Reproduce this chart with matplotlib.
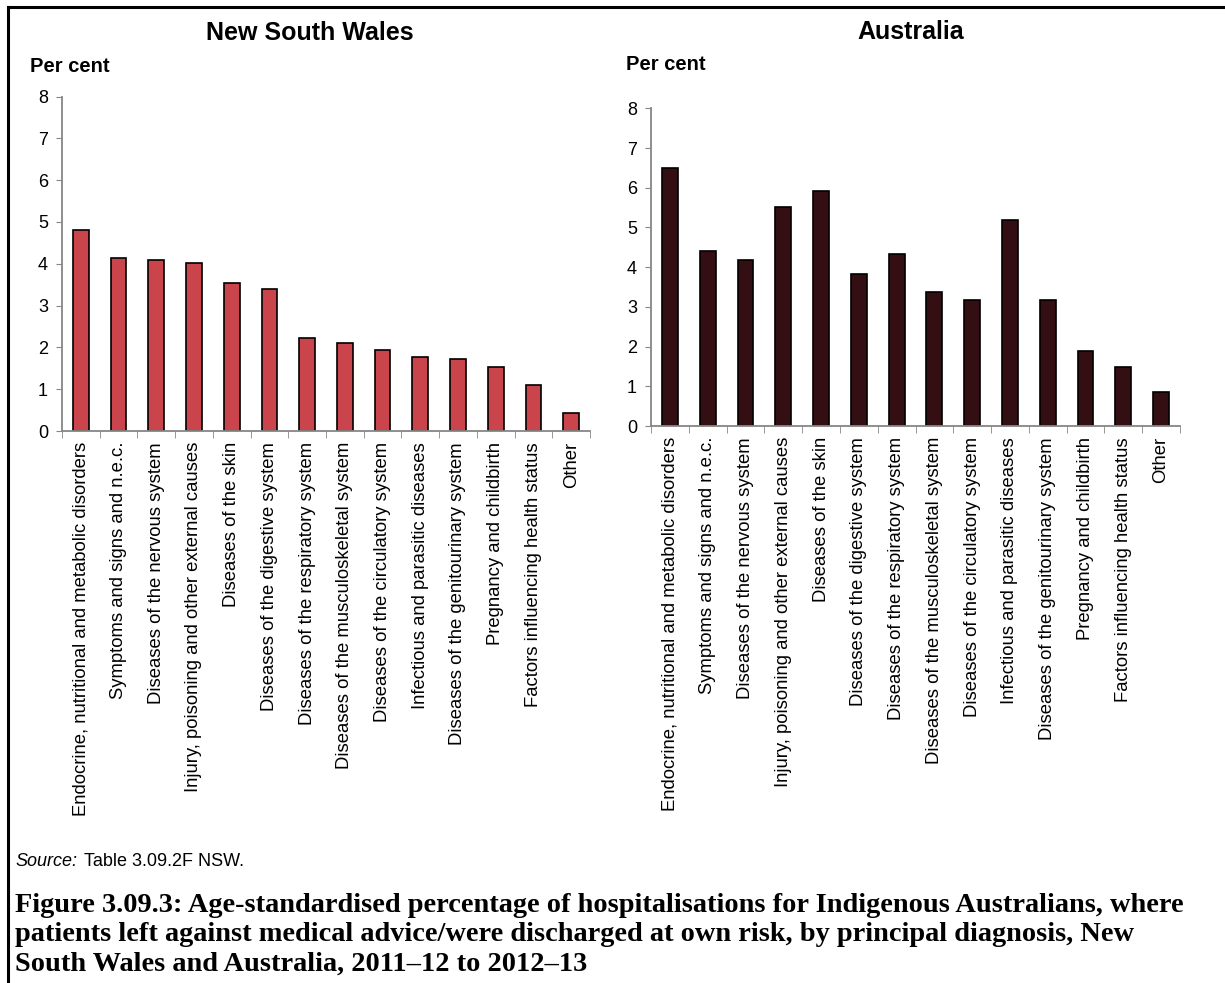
import matplotlib
matplotlib.use("Agg")
import matplotlib.pyplot as plt
import numpy as np

plt.rcParams['font.family'] = ['Liberation Sans', 'DejaVu Sans']

# data
nsw_labels = ["Endocrine, nutritional and metabolic disorders",
              "Symptoms and signs and n.e.c.",
              "Diseases of the nervous system",
              "Injury, poisoning and other external causes",
              "Diseases of the skin",
              "Diseases of the digestive system",
              "Diseases of the respiratory system",
              "Diseases of the musculoskeletal system",
              "Diseases of the circulatory system",
              "Infectious and parasitic diseases",
              "Diseases of the genitourinary system",
              "Pregnancy and childbirth",
              "Factors influencing health status",
              "Other"]
nsw_values = [4.81, 4.14, 4.09, 4.02, 3.55, 3.40, 2.23, 2.10, 1.94, 1.78, 1.72, 1.53, 1.10, 0.44]

aus_labels = nsw_labels
aus_values = [6.50, 4.41, 4.18, 5.51, 5.92, 3.83, 4.32, 3.38, 3.17, 5.19, 3.17, 1.88, 1.49, 0.86]

caption_lines = ["Figure 3.09.3: Age-standardised percentage of hospitalisations for Indigenous Australians, where",
                 "patients left against medical advice/were discharged at own risk, by principal diagnosis, New",
                 "South Wales and Australia, 2011\u201312 to 2012\u201313"]

W, H = 1225, 983
fig = plt.figure(figsize=(12.25, 9.83), dpi=100)

def px(x0, y0, x1, y1):
    return [x0 / W, 1 - y1 / H, (x1 - x0) / W, (y1 - y0) / H]

def panel(rect, labels, values, color):
    ax = fig.add_axes(rect)
    x = np.arange(len(values))
    ax.bar(x, values, width=0.42, color=color, edgecolor='black', linewidth=1.2)
    ax.set_xlim(-0.5, len(values) - 0.5)
    ax.set_ylim(0, 8)
    ax.set_yticks(range(0, 9))
    ax.tick_params(axis='y', labelsize=13, length=4, color='#868686', pad=6)
    ax.set_xticks(x)
    ax.set_xticklabels(labels, rotation=90, fontsize=13.3)
    ax.tick_params(axis='x', length=0, pad=8)
    ax.set_xticks(np.arange(len(values) + 1) - 0.5, minor=True)
    ax.tick_params(axis='x', which='minor', length=5, color='#868686')
    for s in ['top', 'right']:
        ax.spines[s].set_visible(False)
    for s in ['left', 'bottom']:
        ax.spines[s].set_color('#868686')
        ax.spines[s].set_linewidth(1.3)
    return ax

panel(px(62, 96.5, 590, 431), nsw_labels, nsw_values, '#C9444B')
panel(px(651, 108.3, 1180, 426), aus_labels, aus_values, '#330E12')

fig.text(310 / W, 1 - 33 / H, "New South Wales", ha='center', va='center', fontsize=18, fontweight='bold')
fig.text(911 / W, 1 - 32 / H, "Australia", ha='center', va='center', fontsize=18, fontweight='bold')
fig.text(30 / W, 1 - 67 / H, "Per cent", ha='left', va='center', fontsize=14.5, fontweight='bold')
fig.text(626 / W, 1 - 64 / H, "Per cent", ha='left', va='center', fontsize=14.5, fontweight='bold')

fig.text(15 / W, 1 - 862 / H, "Source:", ha='left', va='center', fontsize=13, style='italic')
fig.text(84 / W, 1 - 862 / H, "Table 3.09.2F NSW.", ha='left', va='center', fontsize=13)

for i, line in enumerate(caption_lines):
    fig.text(15 / W, 1 - (905 + 29.5 * i) / H, line, ha='left', va='center', fontsize=20.4,
             fontweight='bold', family=['Liberation Serif', 'DejaVu Serif'])

# frame lines: top and left
fig.add_artist(plt.Line2D([8 / W, 1], [1 - 7 / H, 1 - 7 / H], color='black', linewidth=2.2))
fig.add_artist(plt.Line2D([8 / W, 8 / W], [1 - 7 / H, 0], color='black', linewidth=2.2))

fig.savefig("out.png", dpi=100)
